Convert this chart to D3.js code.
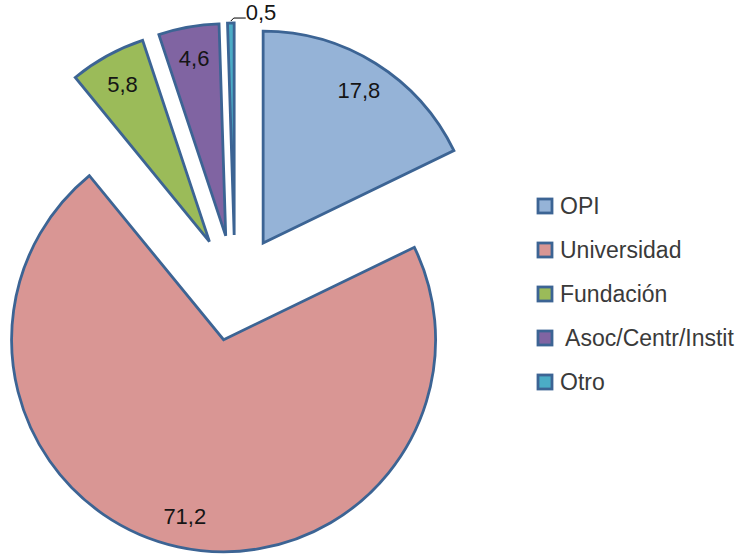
<!DOCTYPE html>
<html>
<head>
<meta charset="utf-8">
<script src="https://cdn.jsdelivr.net/npm/d3@7"></script>
<style>
  body { margin: 0; background: #fff; }
  text { font-family: "Liberation Sans", Arial, sans-serif; }
</style>
</head>
<body>
<div id="chart"></div>
<script>
// data (percent)
var categories = ["OPI", "Universidad", "Fundación", "Asoc/Centr/Instit", "Otro"];
var values = [17.8, 71.2, 5.8, 4.6, 0.5];
var legendNames = ["OPI", "Universidad", "Fundación", " Asoc/Centr/Instit", "Otro"];
var fills = ["#95B3D7", "#D99694", "#9BBB59", "#8064A2", "#4BACC6"];

var width = 748, height = 557,
    cx = 235, cy = 288,
    radius = 212,
    explode = 53;

var svg = d3.select("#chart")
  .append("svg")
  .attr("width", width)
  .attr("height", height);

var color = d3.scaleOrdinal().domain(categories).range(fills);
var fmt = d3.formatLocale({decimal: ",", thousands: ".", grouping: [3], currency: ["", "€"]}).format(".1f");

var pie = d3.pie().sort(null).value(function (d) { return d.value; });
var arc = d3.arc().innerRadius(0).outerRadius(radius);

var data = pie(categories.map(function (c, i) { return {name: c, value: values[i]}; }));

function mid(d) { return (d.startAngle + d.endAngle) / 2; }
function offset(d, r) {
  var a = mid(d);
  return [Math.sin(a) * r, -Math.cos(a) * r];
}

var g = svg.append("g").attr("transform", "translate(" + cx + "," + cy + ")");

var slice = g.selectAll(".slice")
  .data(data)
  .enter()
  .append("g")
  .attr("class", "slice")
  .attr("transform", function (d) { return "translate(" + offset(d, explode) + ")"; });

slice.append("path")
  .attr("d", arc)
  .attr("fill", function (d) { return color(d.data.name); })
  .attr("stroke", "#3C6494")
  .attr("stroke-width", 2.8)
  .attr("stroke-linejoin", "miter");

// labels inside the bigger slices
slice.filter(function (d) { return d.data.value > 2; })
  .append("text")
  .attr("transform", function (d) { return "translate(" + offset(d, radius * 0.85) + ")"; })
  .attr("text-anchor", "middle")
  .attr("dy", "0.36em")
  .attr("font-size", 22)
  .attr("fill", "#151515")
  .text(function (d) { return fmt(d.data.value); });

// small slice: label outside with a leader
var small = slice.filter(function (d) { return d.data.value <= 2; });
small.append("polyline")
  .attr("points", function (d) {
    var p0 = offset(d, radius + 2), p1 = offset(d, radius + 5);
    return [p0, [p1[0] + 3, p1[1]], [p1[0] + 15, p1[1]]].map(function (p) { return p.join(","); }).join(" ");
  })
  .attr("fill", "none")
  .attr("stroke", "#000")
  .attr("stroke-width", 1);
small.append("text")
  .attr("x", function (d) { return offset(d, radius + 5)[0] + 15; })
  .attr("y", function (d) { return offset(d, radius + 5)[1] + 2; })
  .attr("font-size", 22)
  .attr("fill", "#151515")
  .text(function (d) { return fmt(d.data.value); });

// legend
var y = d3.scalePoint().domain(categories).range([206, 382]);

var legend = svg.selectAll(".legend")
  .data(categories)
  .enter()
  .append("g")
  .attr("class", "legend")
  .attr("transform", function (d) { return "translate(538," + y(d) + ")"; });

legend.append("rect")
  .attr("x", 0)
  .attr("y", -7)
  .attr("width", 14)
  .attr("height", 14)
  .attr("fill", function (d) { return color(d); })
  .attr("stroke", "#3C6494")
  .attr("stroke-width", 2.8);

legend.append("text")
  .attr("x", 22)
  .attr("dy", "0.36em")
  .attr("font-size", 23)
  .attr("fill", "#3a3a3a")
  .style("white-space", "pre")
  .text(function (d, i) { return legendNames[i]; });
</script>
</body>
</html>
